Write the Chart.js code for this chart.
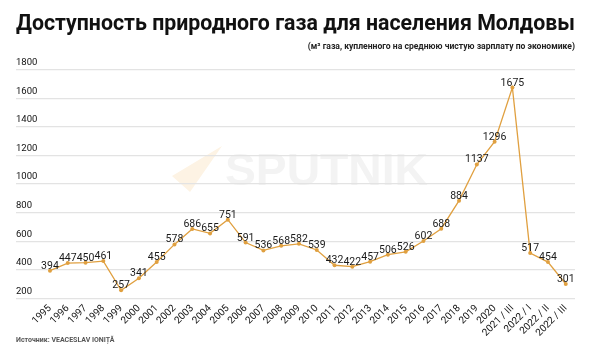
<!DOCTYPE html>
<html><head><meta charset="utf-8">
<script src="https://cdn.jsdelivr.net/npm/chart.js@4"></script>
<style>html,body{margin:0;padding:0;background:#fff}#wrap{width:600px;height:356px}</style>
</head><body><div id="wrap"><canvas id="c" width="600" height="356"></canvas></div>
<script>
const categories = ['1995','1996','1997','1998','1999','2000','2001','2002','2003','2004','2005','2006','2007','2008','2009','2010','2011','2012','2013','2014','2015','2016','2017','2018','2019','2020','2021 / III','2022 / I','2022 / II','2022 / III'];
const values = [394,447,450,461,257,341,455,578,686,655,751,591,536,568,582,539,432,422,457,506,526,602,688,884,1137,1296,1675,517,454,301];
const yTicks = [200,400,600,800,1000,1200,1400,1600,1800];
const titleText = 'Доступность природного газа для населения Молдовы';
const subtitleText = '(м³ газа, купленного на среднюю чистую зарплату по экономике)';
const sourceText = 'Источник: VEACESLAV IONIȚĂ';

const LINE = '#E0A040';
const points = values.map((v,i)=>({x:i,y:v}));

const labelPlugin = {
  id:'valueLabels',
  afterDatasetsDraw(chart){
    const ctx = chart.ctx;
    const meta = chart.getDatasetMeta(0);
    ctx.save();
    ctx.font = '10.5px Roboto';
    ctx.fillStyle = '#1a1a1a';
    ctx.textAlign = 'center';
    ctx.textBaseline = 'alphabetic';
    meta.data.forEach((el,i)=>{
      ctx.fillText(String(values[i]), el.x, el.y - 2);
    });
    ctx.restore();
  }
};
const decorPlugin = {
  id:'decor',
  beforeDraw(chart){
    const ctx = chart.ctx;
    ctx.save();
    ctx.fillStyle = '#fdf3e4';
    ctx.beginPath();
    ctx.moveTo(222,146); ctx.lineTo(172,176); ctx.lineTo(190,192); ctx.closePath(); ctx.fill();
    ctx.font = '900 44px "Liberation Sans"';
    ctx.fillStyle = '#f3f3f3';
    ctx.textBaseline = 'alphabetic';
    const w = ctx.measureText('SPUTNIK').width;
    ctx.translate(225,185);
    ctx.scale(203/w,1);
    ctx.fillText('SPUTNIK',0,0);
    ctx.restore();
  },
  afterDraw(chart){
    const ctx = chart.ctx;
    ctx.save();
    ctx.font = 'bold 7px Roboto';
    ctx.fillStyle = '#555';
    ctx.textBaseline = 'middle';
    ctx.fillText(sourceText, 16, 340);
    ctx.restore();
  }
};

new Chart(document.getElementById('c'), {
  type:'line',
  data:{ datasets:[{ data: points, borderColor: LINE, backgroundColor: LINE, borderWidth: 1.3, pointRadius: 2, pointBackgroundColor: LINE, pointBorderWidth: 0, tension: 0 }] },
  plugins:[labelPlugin, decorPlugin],
  options:{
    responsive:false, animation:false,
    layout:{ padding:{ left:16, right:25, top:0, bottom:13 } },
    plugins:{
      legend:{display:false}, tooltip:{enabled:false},
      title:{ display:true, text:titleText, color:'#111', font:{ family:'Roboto', size:21.5, weight:'bold' }, padding:{top:12,bottom:4} },
      subtitle:{ display:true, text:subtitleText, align:'end', color:'#222', font:{ family:'Roboto', size:8.6, weight:'bold' }, padding:{top:0,bottom:17.6} }
    },
    scales:{
      x:{ type:'linear', min:-1.91, max:categories.length-0.48,
        afterBuildTicks(scale){ scale.ticks = categories.map((c,i)=>({value:i})); },
        grid:{display:false, drawTicks:false}, border:{display:false},
        ticks:{ autoSkip:false, minRotation:45, maxRotation:45, padding:4, color:'#111', font:{family:'Roboto', size:10},
          callback:(v)=>categories[v] } },
      y:{ min:yTicks[0], max:yTicks[yTicks.length-1],
        afterBuildTicks(scale){ scale.ticks = yTicks.map(v=>({value:v})); },
        grid:{ color:'#e3e3e3', lineWidth:1.2, drawTicks:false }, border:{display:false},
        ticks:{ mirror:true, padding:0, labelOffset:-7, color:'#111', font:{family:'Roboto', size:9.5}, callback:(v)=>String(v) } }
    }
  }
});
</script></body></html>
